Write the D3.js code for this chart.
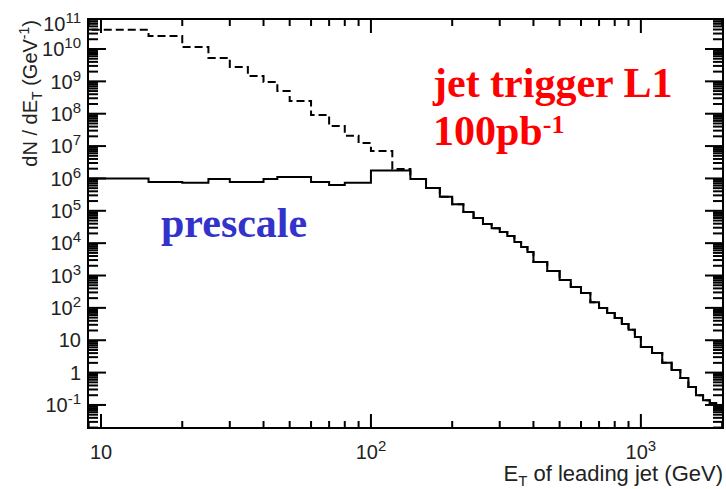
<!DOCTYPE html>
<html>
<head>
<meta charset="utf-8">
<script src="https://cdn.jsdelivr.net/npm/d3@7"></script>
<style>
  body { margin: 0; background: #fff; }
  svg { display: block; }
  .axis-text { font-family: 'Liberation Sans', Arial, sans-serif; fill: #222; }
  .note { font-family: 'Liberation Serif', 'Times New Roman', serif; font-weight: bold; }
</style>
</head>
<body>
<svg id="chart" width="726" height="489"></svg>
<script>
// bin edges, E_T of leading jet (GeV)
const binEdges = [5, 10, 15, 20, 25, 30, 35, 40, 45, 50, 60, 70, 80, 90, 100,
  120, 140, 160, 180, 200, 220, 240, 260, 280, 300, 320, 340, 360, 380, 400,
  450, 500, 550, 600, 650, 700, 750, 800, 850, 900, 950, 1000,
  1100, 1200, 1300, 1400, 1500, 1600, 1700, 1800, 1900, 2000]

// dN/dE_T (GeV^-1), jet trigger L1, 100 pb^-1 (dashed)
const l1Counts = [3.9e10, 3.9e10, 2.5e10, 1.15e10, 5.3e9, 2.8e9, 1.46e9, 9.6e8, 5.0e8,
  2.45e8, 9.1e7, 4.2e7, 2.1e7, 1.24e7, 7.0e6, 1.95e6,
  9.6e5, 5.1e5, 2.7e5, 1.6e5, 9.2e4, 6.0e4, 3.9e4, 2.9e4, 2.2e4, 1.66e4, 1.09e4, 7.6e3, 5.3e3,
  2.6e3, 1.38e3, 730, 440, 290, 150, 99, 70, 49, 32, 21, 12.6,
  6.2, 4.0, 2.0, 1.2, 0.68, 0.36, 0.20, 0.14, 0.115, 0.08]

// dN/dE_T (GeV^-1) after prescale (solid)
const prescaleCounts = [1.0e6, 1.0e6, 7.8e5, 7.3e5, 9.6e5, 7.8e5, 7.8e5, 9.6e5, 1.1e6,
  1.1e6, 7.8e5, 6.3e5, 7.3e5, 7.3e5, 1.75e6, 1.75e6,
  9.6e5, 5.1e5, 2.7e5, 1.6e5, 9.2e4, 6.0e4, 3.9e4, 2.9e4, 2.2e4, 1.66e4, 1.09e4, 7.6e3, 5.3e3,
  2.6e3, 1.38e3, 730, 440, 290, 150, 99, 70, 49, 32, 21, 12.6,
  6.2, 4.0, 2.0, 1.2, 0.68, 0.36, 0.20, 0.14, 0.115, 0.08]

const xMajorTicks = [10, 100, 1000]
const xTickLabels = [['10', ''], ['10', '2'], ['10', '3']]
const yMajorTicks = [1e-1, 1, 10, 1e2, 1e3, 1e4, 1e5, 1e6, 1e7, 1e8, 1e9, 1e10, 1e11]
const yTickLabels = [['10', '-1'], ['1', ''], ['10', ''], ['10', '2'], ['10', '3'], ['10', '4'],
  ['10', '5'], ['10', '6'], ['10', '7'], ['10', '8'], ['10', '9'], ['10', '10'], ['10', '11']]

const frame = { left: 88, right: 723, top: 19, bottom: 428 }
const svg = d3.select('#chart')

const x = d3.scaleLog().domain([8.95, 2015]).range([frame.left, frame.right])
const y = d3.scaleLog().domain([0.0194, 8.45e10]).range([frame.bottom, frame.top])

// histograms
svg.append('clipPath').attr('id', 'frame-clip')
  .append('rect')
    .attr('x', frame.left).attr('y', frame.top)
    .attr('width', frame.right - frame.left).attr('height', frame.bottom - frame.top)

const step = d3.line()
  .x(d => x(d[0]))
  .y(d => y(d[1]))
  .curve(d3.curveStepAfter)
const points = counts => binEdges.map((e, i) => [e, counts[Math.min(i, counts.length - 1)]])

const hists = svg.append('g').attr('clip-path', 'url(#frame-clip)')
hists.append('path')
  .attr('d', step(points(l1Counts)))
  .attr('fill', 'none')
  .attr('stroke', '#000')
  .attr('stroke-width', 2)
  .attr('stroke-dasharray', '8,4')
hists.append('path')
  .attr('d', step(points(prescaleCounts)))
  .attr('fill', 'none')
  .attr('stroke', '#000')
  .attr('stroke-width', 2)

// ticks on all four sides, pointing inward (minor ticks 2..9 per decade from the scale)
const xMinor = x.ticks().filter(v => !xMajorTicks.includes(v))
const yMinor = y.ticks(100).filter(v => !yMajorTicks.includes(v))
const yMajorIn = yMajorTicks.filter(v => v <= y.domain()[1])

const xTicks = xMajorTicks.map(v => [v, 14]).concat(xMinor.map(v => [v, 7]))
const yTicks = yMajorIn.map(v => [v, 18]).concat(yMinor.map(v => [v, 10]))

const tickG = svg.append('g')
tickG.selectAll('.xb').data(xTicks).join('path').attr('class', 'xb')
  .attr('d', d => `M${x(d[0])},${frame.bottom}V${frame.bottom - d[1]}`)
tickG.selectAll('.xt').data(xTicks).join('path').attr('class', 'xt')
  .attr('d', d => `M${x(d[0])},${frame.top}V${frame.top + d[1]}`)
tickG.selectAll('.yl').data(yTicks).join('path').attr('class', 'yl')
  .attr('d', d => `M${frame.left},${y(d[0])}H${frame.left + d[1]}`)
tickG.selectAll('.yr').data(yTicks).join('path').attr('class', 'yr')
  .attr('d', d => `M${frame.right},${y(d[0])}H${frame.right - d[1]}`)
tickG.selectAll('path')
  .attr('fill', 'none')
  .attr('stroke', '#000')
  .attr('stroke-width', 2)

svg.append('rect')
  .attr('x', frame.left).attr('y', frame.top)
  .attr('width', frame.right - frame.left).attr('height', frame.bottom - frame.top)
  .attr('fill', 'none')
  .attr('stroke', '#000')
  .attr('stroke-width', 2)

// tick labels
function powerLabel(sel, labels, expDy) {
  sel.each(function (d, i) {
    const [base, exp] = labels[i]
    const t = d3.select(this)
    t.append('tspan').text(base)
    if (exp) t.append('tspan').attr('dy', expDy).style('font-size', '15px').text(exp)
  })
}

svg.append('g').selectAll('text').data(yMajorTicks).join('text')
  .attr('class', 'axis-text')
  .attr('x', frame.left - 7)
  .attr('y', d => Math.max(y(d), frame.top + 5))
  .attr('dy', '0.36em')
  .attr('text-anchor', 'end')
  .style('font-size', '20px')
  .call(powerLabel, yTickLabels, -8)

svg.append('g').selectAll('text').data(xMajorTicks).join('text')
  .attr('class', 'axis-text')
  .attr('x', d => x(d))
  .attr('y', frame.bottom + 31)
  .attr('text-anchor', 'middle')
  .style('font-size', '20px')
  .call(powerLabel, xTickLabels, -8)

// axis titles
const xTitle = svg.append('text')
  .attr('class', 'axis-text')
  .attr('x', frame.right)
  .attr('y', 481)
  .attr('text-anchor', 'end')
  .style('font-size', '22px')
xTitle.append('tspan').text('E')
xTitle.append('tspan').attr('dy', 5).style('font-size', '15px').text('T')
xTitle.append('tspan').attr('dy', -5).text(' of leading jet (GeV)')

const yTitle = svg.append('text')
  .attr('class', 'axis-text')
  .attr('transform', 'translate(37,20) rotate(-90)')
  .attr('text-anchor', 'end')
  .style('font-size', '20px')
yTitle.append('tspan').text('dN / dE')
yTitle.append('tspan').attr('dy', 5).style('font-size', '14px').text('T')
yTitle.append('tspan').attr('dy', -5).text(' (GeV')
yTitle.append('tspan').attr('dy', -8).style('font-size', '14px').text('-1')
yTitle.append('tspan').attr('dy', 8).text(')')

// annotations
svg.append('text')
  .attr('class', 'note')
  .attr('x', 433).attr('y', 97)
  .attr('fill', '#ff0000')
  .style('font-size', '42px')
  .text('jet trigger L1')
const lumi = svg.append('text')
  .attr('class', 'note')
  .attr('x', 433).attr('y', 145)
  .attr('fill', '#ff0000')
  .style('font-size', '42px')
lumi.append('tspan').text('100pb')
lumi.append('tspan').attr('dy', -12).style('font-size', '26px').text('-1')

svg.append('text')
  .attr('class', 'note')
  .attr('x', 161).attr('y', 237)
  .attr('fill', '#3333cc')
  .style('font-size', '42px')
  .text('prescale')
</script>
</body>
</html>
